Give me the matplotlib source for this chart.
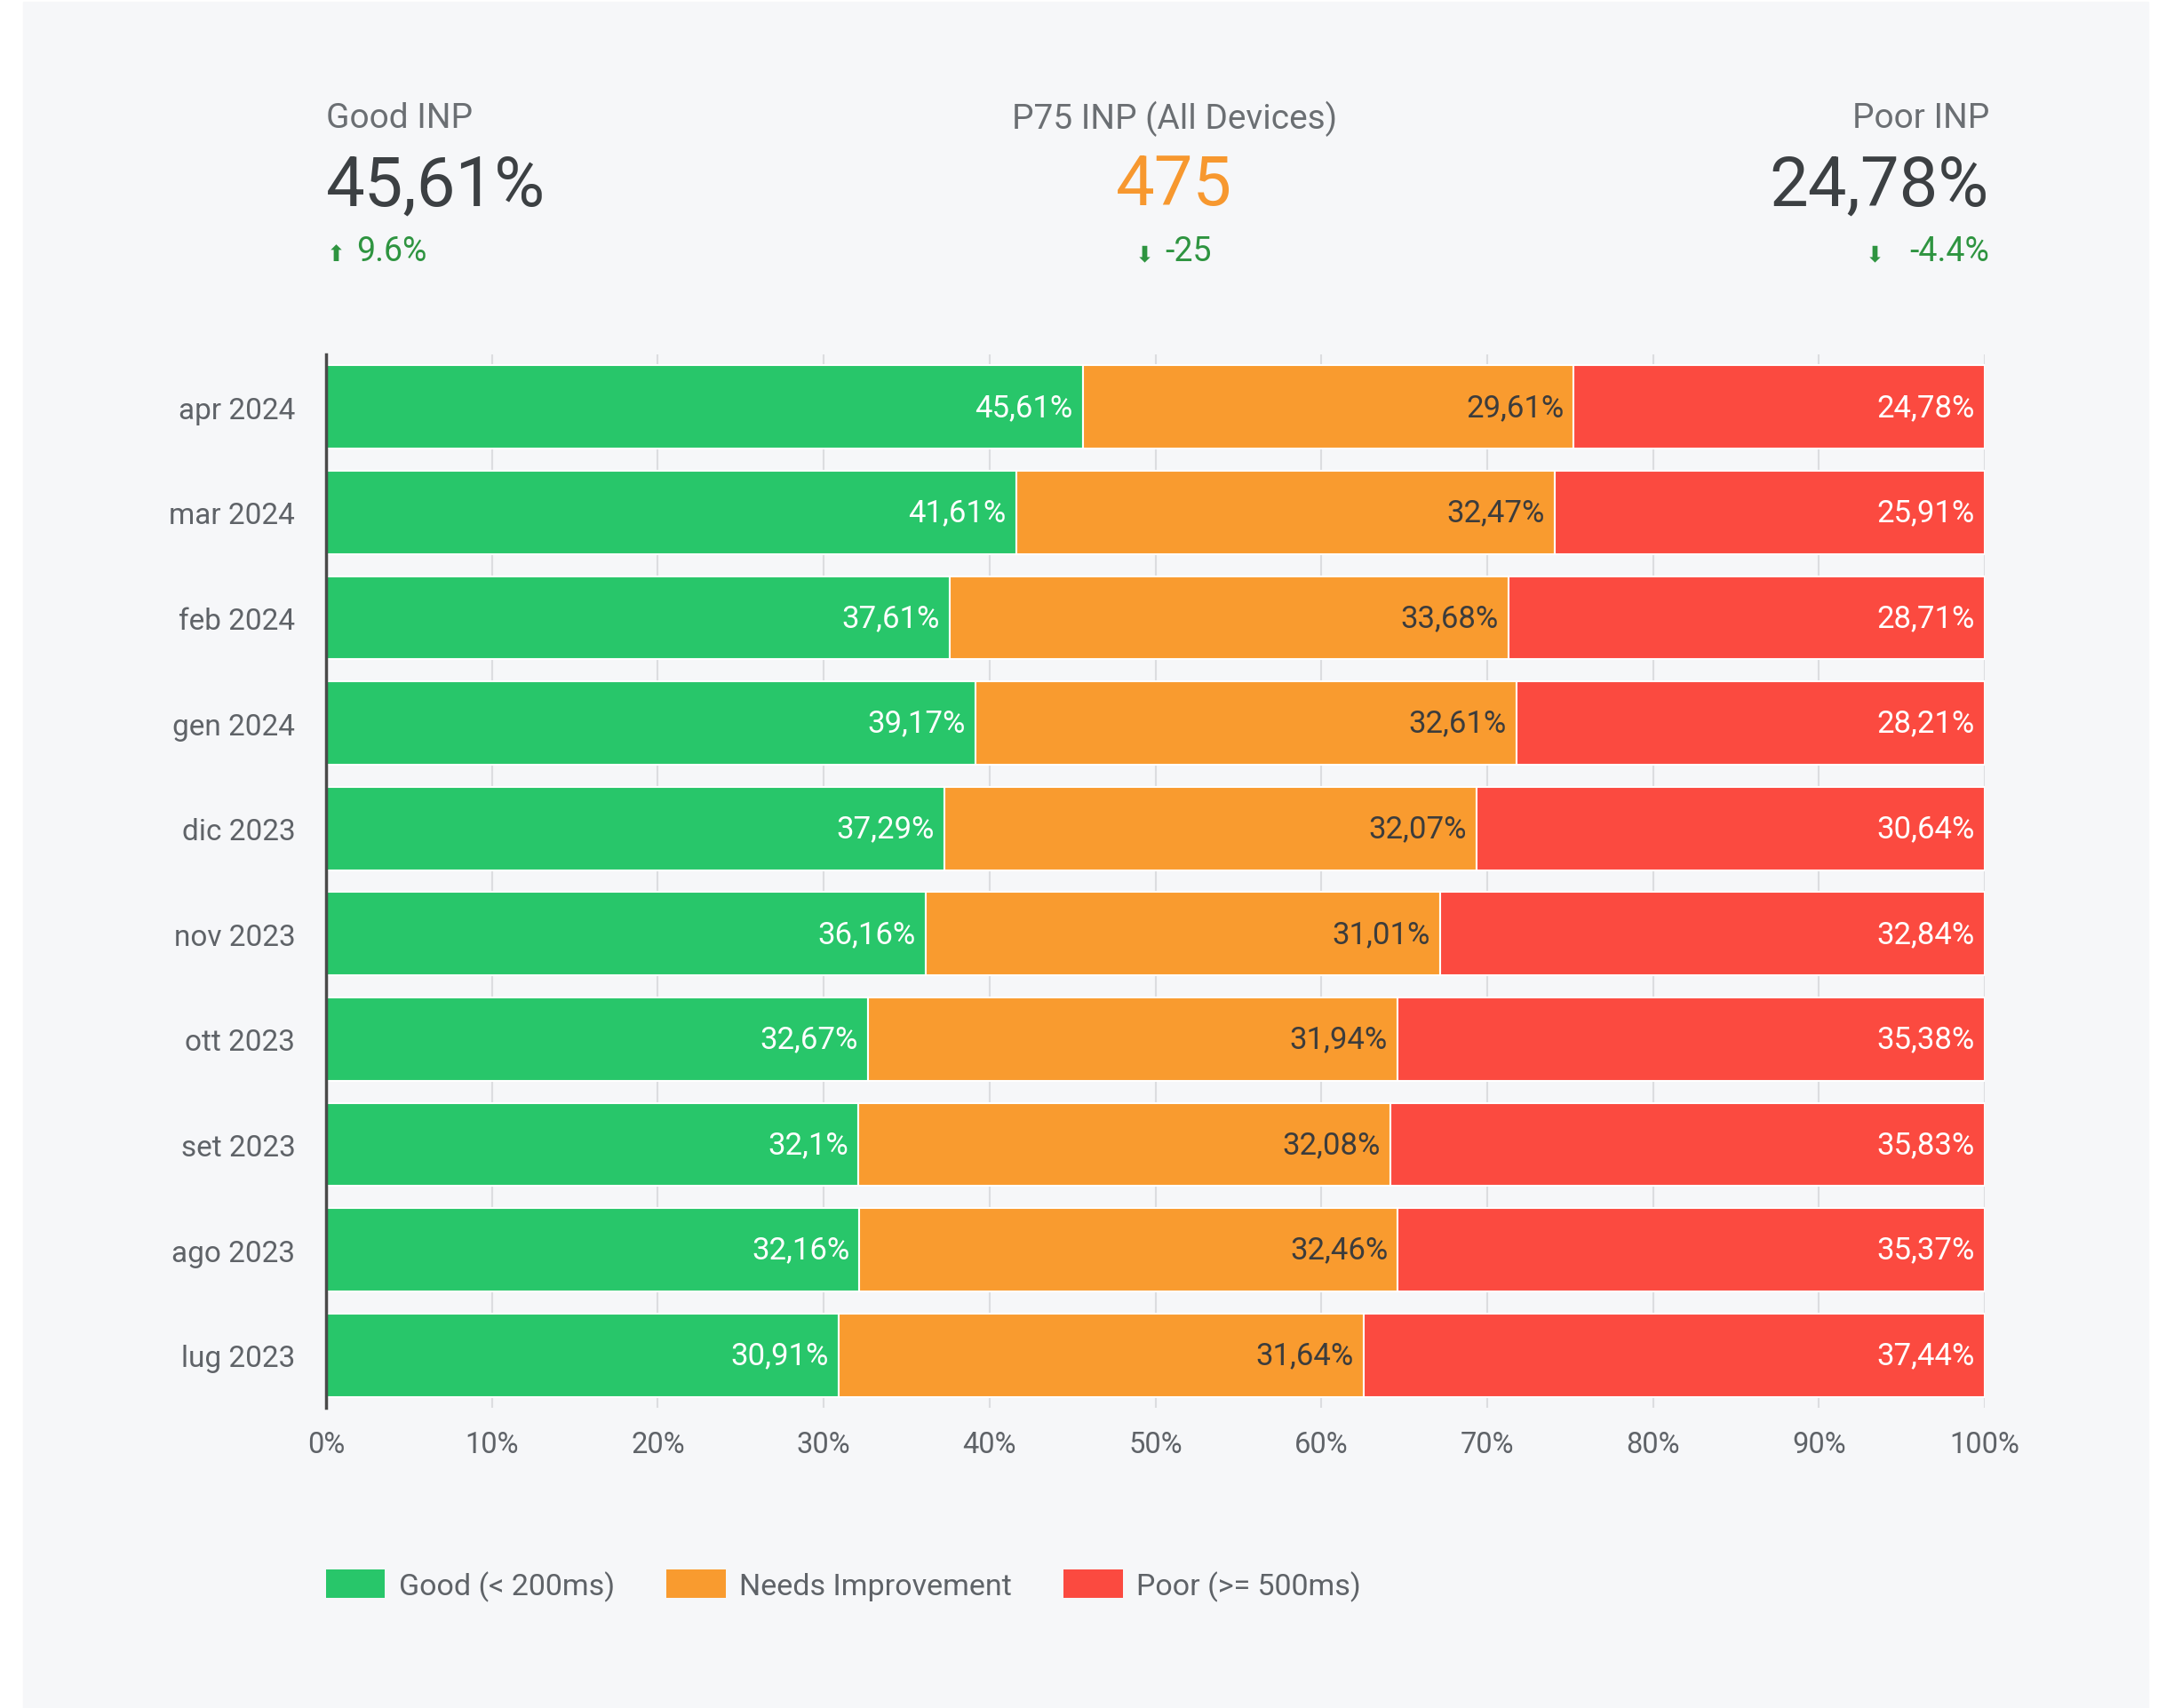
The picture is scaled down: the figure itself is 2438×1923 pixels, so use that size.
import numpy as np
import matplotlib.pyplot as plt
from matplotlib.patches import Rectangle

plt.rcParams['font.family'] = ['Roboto', 'DejaVu Sans']

months = ["apr 2024", "mar 2024", "feb 2024", "gen 2024", "dic 2023",
          "nov 2023", "ott 2023", "set 2023", "ago 2023", "lug 2023"]
good = [45.61, 41.61, 37.61, 39.17, 37.29, 36.16, 32.67, 32.1, 32.16, 30.91]
needs = [29.61, 32.47, 33.68, 32.61, 32.07, 31.01, 31.94, 32.08, 32.46, 31.64]
poor = [24.78, 25.91, 28.71, 28.21, 30.64, 32.84, 35.38, 35.83, 35.37, 37.44]
series_names = ["Good (< 200ms)", "Needs Improvement", "Poor (>= 500ms)"]
colors = ["#28c66a", "#f99b2f", "#fb4a40"]
label_colors = ["white", "#3c3c3c", "white"]

kpi_titles = ["Good INP", "P75 INP (All Devices)", "Poor INP"]
kpi_values = ["45,61%", "475", "24,78%"]
kpi_deltas = ["9.6%", "-25", "-4.4%"]
kpi_arrows = ["⬆", "⬇", "⬇"]

W, H = 2438, 1924
fig = plt.figure(figsize=(W / 100, H / 100), dpi=100)
fig.patch.set_facecolor("white")
# light grey panel behind everything
fig.patches.append(Rectangle((26 / W, 0), (2418 - 26) / W, 1 - 3 / H,
                             transform=fig.transFigure, color="#f6f7f9", zorder=-10))

ax = fig.add_axes([367 / W, 1 - 1586 / H, (2234 - 367) / W, (1586 - 400) / H])
ax.set_facecolor("none")
ax.set_zorder(2)

y = np.arange(len(months))
left = np.zeros(len(months))
for vals, name, c, lc in zip([good, needs, poor], series_names, colors, label_colors):
    vals = np.array(vals)
    ax.barh(y, vals, left=left, height=0.79, color=c, edgecolor="white",
            linewidth=1.5, label=name, zorder=2)
    for yi, l, v in zip(y, left, vals):
        txt = f"{v:g}".replace(".", ",") + "%"
        ax.text(l + v - 0.6, yi, txt, ha="right", va="center", fontsize=25,
                color=lc, zorder=3)
    left = left + vals

ax.set_xlim(0, 100)
ax.set_ylim(len(months) - 0.5, -0.5)
ax.set_yticks(y)
ax.set_yticklabels(months)
ax.set_xticks(np.arange(0, 101, 10))
ax.set_xticklabels([f"{t}%" for t in range(0, 101, 10)])
ax.tick_params(axis="y", length=0, pad=25, labelsize=24, labelcolor="#5f6368")
ax.tick_params(axis="x", length=0, pad=18, labelsize=23.5, labelcolor="#5f6368")
ax.grid(axis="x", color="#dcdde0", linewidth=1.5, zorder=1)
ax.set_axisbelow(True)
for s in ["top", "right", "bottom"]:
    ax.spines[s].set_visible(False)
ax.spines["left"].set_color("#4a4a4a")
ax.spines["left"].set_linewidth(2.5)
ax.spines["left"].set_zorder(4)

leg = fig.legend(loc="center left", bbox_to_anchor=(367 / W, 1 - 1786 / H), ncol=3,
                 frameon=False, fontsize=24.5, handlelength=1.95, handleheight=1.05,
                 handletextpad=0.45, columnspacing=1.72, borderpad=0, borderaxespad=0,
                 labelcolor="#5f6368")
for p in leg.get_patches():
    p.set_edgecolor("none")

# KPI header
xs = [367, 1322, 2239]
aligns = ["left", "center", "right"]
value_colors = ["#3c4043", "#f7982f", "#3c4043"]
green = "#2e9440"
for i in range(3):
    fig.text(xs[i] / W, 1 - 134 / H, kpi_titles[i], ha=aligns[i], va="center",
             fontsize=28, color="#6b6f73")
    fig.text(xs[i] / W, 1 - 210 / H, kpi_values[i], ha=aligns[i], va="center",
             fontsize=56, color=value_colors[i])

arrow_x = [378, 1288, 2110]
for i in range(3):
    fig.text(arrow_x[i] / W, 1 - 287 / H, kpi_arrows[i], ha="center", va="center",
             fontsize=18, color=green, family="DejaVu Sans")
fig.text(401 / W, 1 - 283 / H, kpi_deltas[0], ha="left", va="center", fontsize=27, color=green)
fig.text(1311 / W, 1 - 283 / H, kpi_deltas[1], ha="left", va="center", fontsize=27, color=green)
fig.text(2239 / W, 1 - 283 / H, kpi_deltas[2], ha="right", va="center", fontsize=27, color=green)

fig.savefig("out.png", dpi=100, facecolor=fig.get_facecolor())
